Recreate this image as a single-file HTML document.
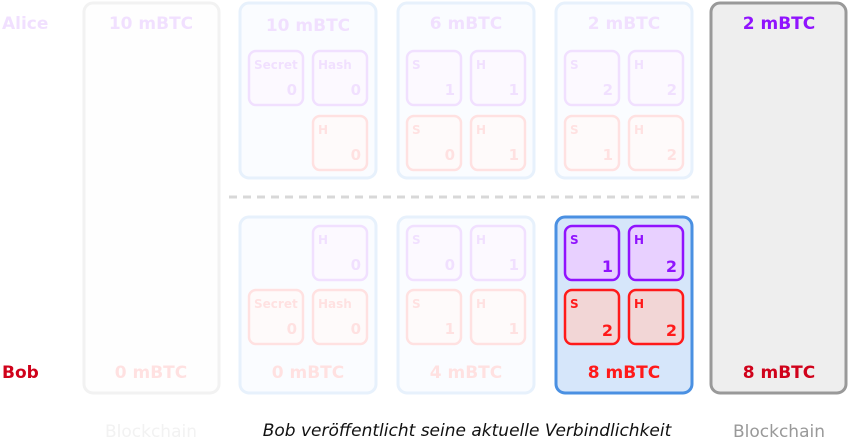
<!DOCTYPE html>
<html><head><meta charset="utf-8"><style>
html,body{margin:0;padding:0;background:#fff;}
svg{display:block;font-family:"DejaVu Sans","Liberation Sans",sans-serif;}
.b{font-weight:bold;}
</style></head><body>
<svg width="849" height="442" viewBox="0 0 849 442" xmlns="http://www.w3.org/2000/svg">
<defs>
<g id="sp"><rect x="0" y="0" width="54" height="54" rx="7" fill="#e8d0ff" stroke="#9013fe" stroke-width="2.5"/></g>
<g id="sr"><rect x="0" y="0" width="54" height="54" rx="7" fill="#f2d6d6" stroke="#ff1a1a" stroke-width="2.5"/></g>
</defs>
<!-- faded stuff -->
<g opacity="0.13">
  <text x="2" y="29" font-size="17" class="b" fill="#9013fe">Alice</text>
  <rect x="84" y="3" width="135" height="390" rx="9" fill="#f6f6f6" stroke="#999" stroke-width="3"/>
  <text x="151" y="29" font-size="17" class="b" fill="#9013fe" text-anchor="middle">10 mBTC</text>
  <text x="151" y="378" font-size="17" class="b" fill="#ff1a1a" text-anchor="middle">0 mBTC</text>
  <text x="151" y="437" font-size="17" fill="#999" text-anchor="middle">Blockchain</text>

  <!-- col2 top -->
  <rect x="240" y="3" width="136" height="175" rx="9" fill="#d6e6fa" stroke="#4a90e2" stroke-width="3"/>
  <text x="308" y="31" font-size="17" class="b" fill="#9013fe" text-anchor="middle">10 mBTC</text>
  <g transform="translate(249,51)"><use href="#sp"/><text x="5" y="18" font-size="12" class="b" fill="#9013fe">Secret</text><text x="48" y="44" font-size="15" class="b" fill="#9013fe" text-anchor="end">0</text></g>
  <g transform="translate(313,51)"><use href="#sp"/><text x="5" y="18" font-size="12" class="b" fill="#9013fe">Hash</text><text x="48" y="44" font-size="15" class="b" fill="#9013fe" text-anchor="end">0</text></g>
  <g transform="translate(313,116)"><use href="#sr"/><text x="5" y="18" font-size="12" class="b" fill="#ff1a1a">H</text><text x="48" y="44" font-size="15" class="b" fill="#ff1a1a" text-anchor="end">0</text></g>

  <!-- col3 top -->
  <rect x="398" y="3" width="136" height="175" rx="9" fill="#d6e6fa" stroke="#4a90e2" stroke-width="3"/>
  <text x="466" y="29" font-size="17" class="b" fill="#9013fe" text-anchor="middle">6 mBTC</text>
  <g transform="translate(407,51)"><use href="#sp"/><text x="5" y="18" font-size="12" class="b" fill="#9013fe">S</text><text x="48" y="44" font-size="15" class="b" fill="#9013fe" text-anchor="end">1</text></g>
  <g transform="translate(471,51)"><use href="#sp"/><text x="5" y="18" font-size="12" class="b" fill="#9013fe">H</text><text x="48" y="44" font-size="15" class="b" fill="#9013fe" text-anchor="end">1</text></g>
  <g transform="translate(407,116)"><use href="#sr"/><text x="5" y="18" font-size="12" class="b" fill="#ff1a1a">S</text><text x="48" y="44" font-size="15" class="b" fill="#ff1a1a" text-anchor="end">0</text></g>
  <g transform="translate(471,116)"><use href="#sr"/><text x="5" y="18" font-size="12" class="b" fill="#ff1a1a">H</text><text x="48" y="44" font-size="15" class="b" fill="#ff1a1a" text-anchor="end">1</text></g>

  <!-- col4 top -->
  <rect x="556" y="3" width="136" height="175" rx="9" fill="#d6e6fa" stroke="#4a90e2" stroke-width="3"/>
  <text x="624" y="29" font-size="17" class="b" fill="#9013fe" text-anchor="middle">2 mBTC</text>
  <g transform="translate(565,51)"><use href="#sp"/><text x="5" y="18" font-size="12" class="b" fill="#9013fe">S</text><text x="48" y="44" font-size="15" class="b" fill="#9013fe" text-anchor="end">2</text></g>
  <g transform="translate(629,51)"><use href="#sp"/><text x="5" y="18" font-size="12" class="b" fill="#9013fe">H</text><text x="48" y="44" font-size="15" class="b" fill="#9013fe" text-anchor="end">2</text></g>
  <g transform="translate(565,116)"><use href="#sr"/><text x="5" y="18" font-size="12" class="b" fill="#ff1a1a">S</text><text x="48" y="44" font-size="15" class="b" fill="#ff1a1a" text-anchor="end">1</text></g>
  <g transform="translate(629,116)"><use href="#sr"/><text x="5" y="18" font-size="12" class="b" fill="#ff1a1a">H</text><text x="48" y="44" font-size="15" class="b" fill="#ff1a1a" text-anchor="end">2</text></g>

  <!-- col2 bottom -->
  <rect x="240" y="217" width="136" height="176" rx="9" fill="#d6e6fa" stroke="#4a90e2" stroke-width="3"/>
  <g transform="translate(313,226)"><use href="#sp"/><text x="5" y="18" font-size="12" class="b" fill="#9013fe">H</text><text x="48" y="44" font-size="15" class="b" fill="#9013fe" text-anchor="end">0</text></g>
  <g transform="translate(249,290)"><use href="#sr"/><text x="5" y="18" font-size="12" class="b" fill="#ff1a1a">Secret</text><text x="48" y="44" font-size="15" class="b" fill="#ff1a1a" text-anchor="end">0</text></g>
  <g transform="translate(313,290)"><use href="#sr"/><text x="5" y="18" font-size="12" class="b" fill="#ff1a1a">Hash</text><text x="48" y="44" font-size="15" class="b" fill="#ff1a1a" text-anchor="end">0</text></g>
  <text x="308" y="378" font-size="17" class="b" fill="#ff1a1a" text-anchor="middle">0 mBTC</text>

  <!-- col3 bottom -->
  <rect x="398" y="217" width="136" height="176" rx="9" fill="#d6e6fa" stroke="#4a90e2" stroke-width="3"/>
  <g transform="translate(407,226)"><use href="#sp"/><text x="5" y="18" font-size="12" class="b" fill="#9013fe">S</text><text x="48" y="44" font-size="15" class="b" fill="#9013fe" text-anchor="end">0</text></g>
  <g transform="translate(471,226)"><use href="#sp"/><text x="5" y="18" font-size="12" class="b" fill="#9013fe">H</text><text x="48" y="44" font-size="15" class="b" fill="#9013fe" text-anchor="end">1</text></g>
  <g transform="translate(407,290)"><use href="#sr"/><text x="5" y="18" font-size="12" class="b" fill="#ff1a1a">S</text><text x="48" y="44" font-size="15" class="b" fill="#ff1a1a" text-anchor="end">1</text></g>
  <g transform="translate(471,290)"><use href="#sr"/><text x="5" y="18" font-size="12" class="b" fill="#ff1a1a">H</text><text x="48" y="44" font-size="15" class="b" fill="#ff1a1a" text-anchor="end">1</text></g>
  <text x="466" y="378" font-size="17" class="b" fill="#ff1a1a" text-anchor="middle">4 mBTC</text>
</g>

<line x1="229" y1="197" x2="704" y2="197" stroke="#d8d8d8" stroke-width="3" stroke-dasharray="8,6"/>

<text x="2" y="378" font-size="17" class="b" fill="#d0021b">Bob</text>

<!-- active col4 bottom -->
<rect x="556" y="217" width="136" height="176" rx="9" fill="#d6e6fa" stroke="#4a90e2" stroke-width="3"/>
<g transform="translate(565,226)"><use href="#sp"/><text x="5" y="18" font-size="12" class="b" fill="#9013fe">S</text><text x="48" y="46" font-size="16" class="b" fill="#9013fe" text-anchor="end">1</text></g>
<g transform="translate(629,226)"><use href="#sp"/><text x="5" y="18" font-size="12" class="b" fill="#9013fe">H</text><text x="48" y="46" font-size="16" class="b" fill="#9013fe" text-anchor="end">2</text></g>
<g transform="translate(565,290)"><use href="#sr"/><text x="5" y="18" font-size="12" class="b" fill="#ff1a1a">S</text><text x="48" y="46" font-size="16" class="b" fill="#ff1a1a" text-anchor="end">2</text></g>
<g transform="translate(629,290)"><use href="#sr"/><text x="5" y="18" font-size="12" class="b" fill="#ff1a1a">H</text><text x="48" y="46" font-size="16" class="b" fill="#ff1a1a" text-anchor="end">2</text></g>
<text x="624" y="378" font-size="17" class="b" fill="#ff1a1a" text-anchor="middle">8 mBTC</text>

<!-- right blockchain -->
<rect x="711" y="3" width="135" height="390" rx="9" fill="#eeeeee" stroke="#999" stroke-width="3"/>
<text x="779" y="29" font-size="17" class="b" fill="#9013fe" text-anchor="middle">2 mBTC</text>
<text x="779" y="378" font-size="17" class="b" fill="#d0021b" text-anchor="middle">8 mBTC</text>
<text x="779" y="437" font-size="17" fill="#999" text-anchor="middle">Blockchain</text>

<text x="467" y="436" font-size="17" font-style="italic" fill="#111" text-anchor="middle">Bob veröffentlicht seine aktuelle Verbindlichkeit</text>
</svg>
</body></html>
